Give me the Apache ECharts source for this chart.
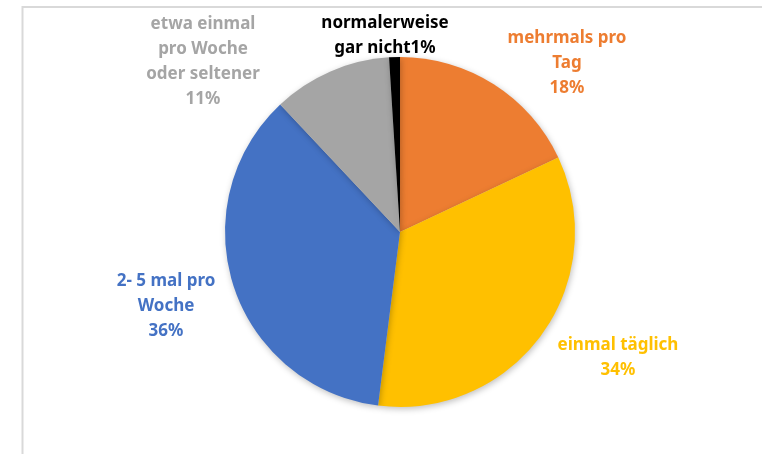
<!DOCTYPE html>
<html>
<head>
<meta charset="utf-8">
<script src="https://cdn.jsdelivr.net/npm/echarts@6/dist/echarts.min.js"></script>
<style>
  html, body { margin: 0; padding: 0; background: #fff; }
  #chart { width: 762px; height: 454px; }
</style>
</head>
<body>
<div id="chart"></div>
<script>
// Anteile in Prozent, im Uhrzeigersinn ab 12 Uhr
const categories = [
  'mehrmals pro\nTag',
  'einmal täglich',
  '2- 5 mal pro\nWoche',
  'etwa einmal\npro Woche\noder seltener',
  'normalerweise\ngar nicht'
]
const values = [18, 34, 36, 11, 1]

const colors = ['#ED7D31', '#FFC000', '#4472C4', '#A5A5A5', '#000000']
// label centres in px
const labelPos = [[567, 63], [618, 358], [166, 306], [203, 62], [385, 36]]

const chart = echarts.init(document.getElementById('chart'))

chart.setOption({
  animation: false,
  graphic: [
    {
      type: 'polyline',
      shape: { points: [[762, 7], [22.5, 7], [22.5, 454]] },
      style: { stroke: '#d9d9d9', lineWidth: 2, fill: null }
    }
  ],
  series: [
    {
      type: 'pie',
      center: [400, 232],
      radius: 175,
      startAngle: 90,
      clockwise: true,
      data: categories.map((name, i) => ({
        name,
        value: values[i],
        itemStyle: { color: colors[i] },
        label: { color: colors[i] }
      })),
      itemStyle: {
        borderWidth: 0,
        shadowBlur: 6,
        shadowColor: 'rgba(0,0,0,0.25)',
        shadowOffsetX: 1,
        shadowOffsetY: 2
      },
      label: {
        show: true,
        position: 'outside',
        fontFamily: 'Noto Sans',
        fontWeight: 'bold',
        fontSize: 17,
        lineHeight: 25,
        align: 'center',
        formatter: p => p.name + (p.dataIndex === 4 ? '' : '\n') + p.value + '%'
      },
      labelLine: { show: false },
      labelLayout: p => ({
        x: labelPos[p.dataIndex][0],
        y: labelPos[p.dataIndex][1],
        align: 'center',
        verticalAlign: 'middle'
      })
    }
  ]
})
</script>
</body>
</html>
